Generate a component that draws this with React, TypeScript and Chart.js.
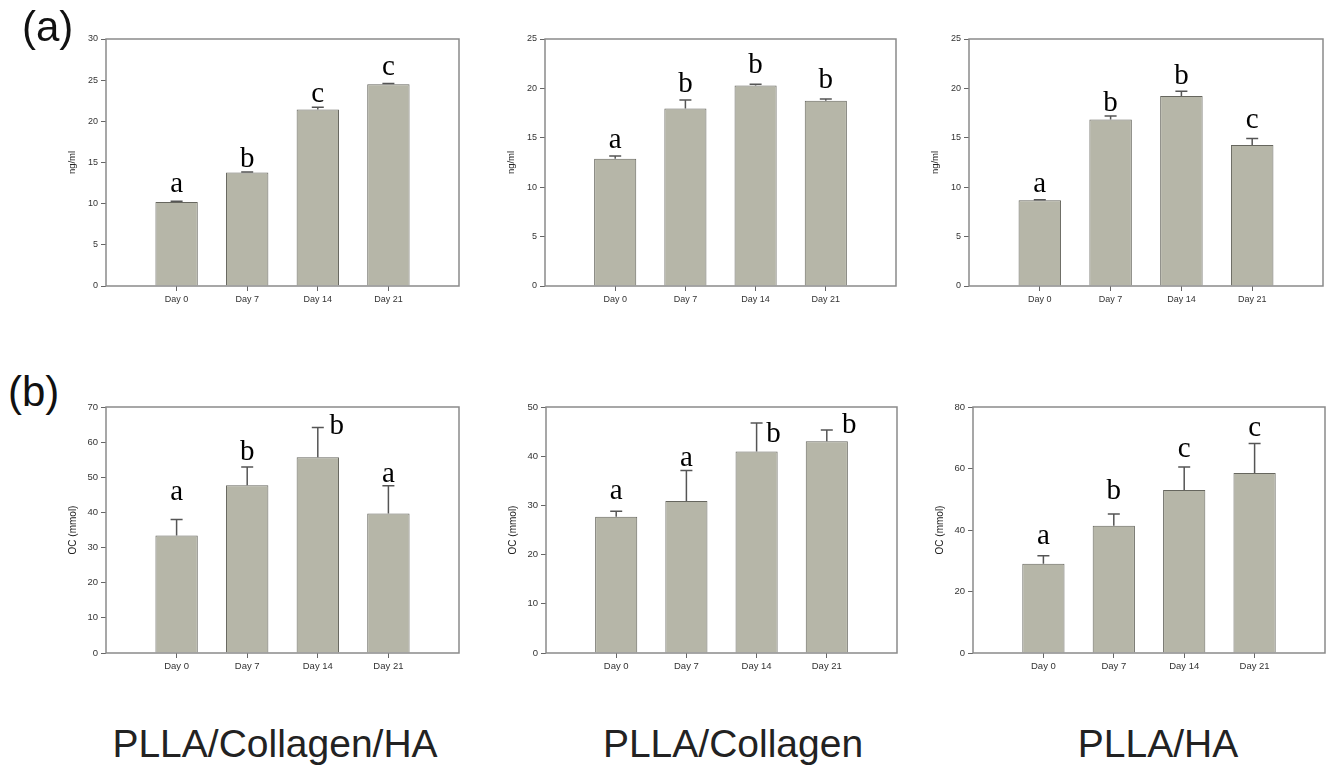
import React, { useEffect, useRef } from 'react';
import { Chart, registerables } from 'chart.js';

Chart.register(...registerables);

// ---------- data ----------
const days = ['Day 0', 'Day 7', 'Day 14', 'Day 21'];

// (a) ng/ml
const a1Values = [10.2, 13.8, 21.45, 24.5];
const a1Errors = [0.1, 0.05, 0.25, 0.1];
const a1Letters = ['a', 'b', 'c', 'c'];
const a1LetterY = [11.37, 14.49, 22.4, 25.65];
const a1LetterDx = [0, 0, 0, 0];

const a2Values = [12.87, 17.97, 20.3, 18.75];
const a2Errors = [0.3, 0.85, 0.12, 0.17];
const a2Letters = ['a', 'b', 'b', 'b'];
const a2LetterY = [13.98, 19.6, 21.55, 20.03];
const a2LetterDx = [0, 0, 0, 0];

const a3Values = [8.68, 16.86, 19.22, 14.27];
const a3Errors = [0.05, 0.34, 0.5, 0.66];
const a3Letters = ['a', 'b', 'b', 'c'];
const a3LetterY = [9.53, 17.73, 20.4, 15.95];
const a3LetterDx = [0, 0, 0, 0];

// (b) OC (mmol)
const b1Values = [33.4, 47.7, 55.7, 39.7];
const b1Errors = [4.6, 5.2, 8.5, 7.9];
const b1Letters = ['a', 'b', 'b', 'a'];
const b1LetterY = [43.5, 54.85, 62.4, 48.7];
const b1LetterDx = [0, 0, 0.27, 0];

const b2Values = [27.7, 30.9, 40.95, 43.04];
const b2Errors = [1.1, 6.2, 5.8, 2.3];
const b2Letters = ['a', 'a', 'b', 'b'];
const b2LetterY = [31.2, 37.97, 42.9, 44.8];
const b2LetterDx = [0, 0, 0.24, 0.32];

const b3Values = [29.0, 41.4, 53.0, 58.5];
const b3Errors = [2.6, 3.8, 7.5, 9.6];
const b3Letters = ['a', 'b', 'c', 'c'];
const b3LetterY = [35.45, 49.95, 63.77, 70.5];
const b3LetterDx = [0, 0, 0, 0];

const groupTitles = ['PLLA/Collagen/HA', 'PLLA/Collagen', 'PLLA/HA'];

// ---------- styles ----------
const BAR_FILL = '#b6b6a8';
const BAR_EDGE = '#66665e';
const ERR_COLOR = '#555555';
const FRAME = '#8a8a8a';
const TEXT = '#333333';

type PanelSpec = {
  values: number[];
  errors: number[];
  letters: string[];
  letterY: number[];
  letterDx: number[];
  yMax: number;
  yStep: number;
  yTitle: string;
  rect: { l: number; t: number; r: number; b: number };
  tickSize: number;
  titleSize: number;
};

const AXIS_W = 43;
const PAD_T = 15;
const PAD_R = 4;
const XAXIS_H = 30;

function Panel({ spec }: { spec: PanelSpec }) {
  const ref = useRef<HTMLCanvasElement | null>(null);
  const { rect } = spec;
  const width = rect.r - rect.l + AXIS_W + PAD_R;
  const height = rect.b - rect.t + PAD_T + XAXIS_H;

  useEffect(() => {
    if (!ref.current) return;
    const frame = {
      id: 'frame',
      afterDraw(chart: any) {
        const { ctx, chartArea: a } = chart;
        ctx.save();
        ctx.strokeStyle = FRAME;
        ctx.lineWidth = 1.5;
        ctx.strokeRect(a.left, a.top, a.right - a.left, a.bottom - a.top);
        ctx.restore();
      },
    };
    const extras = {
      id: 'extras',
      afterDatasetsDraw(chart: any) {
        const { ctx } = chart;
        const ys = chart.scales.y;
        const xs = chart.scales.x;
        const meta = chart.getDatasetMeta(0);
        ctx.save();
        meta.data.forEach((el: any, i: number) => {
          const top = ys.getPixelForValue(spec.values[i] + spec.errors[i]);
          ctx.strokeStyle = ERR_COLOR;
          ctx.lineWidth = 1.5;
          ctx.beginPath();
          ctx.moveTo(el.x, el.y);
          ctx.lineTo(el.x, top);
          ctx.moveTo(el.x - 6, top);
          ctx.lineTo(el.x + 6, top);
          ctx.stroke();
          ctx.fillStyle = '#000';
          ctx.font = '29px "Liberation Serif", "Times New Roman", serif';
          ctx.textAlign = 'center';
          ctx.textBaseline = 'alphabetic';
          ctx.fillText(
            spec.letters[i],
            xs.getPixelForValue(i + 1 + spec.letterDx[i]),
            ys.getPixelForValue(spec.letterY[i])
          );
        });
        ctx.restore();
      },
    };
    const chart = new Chart(ref.current, {
      type: 'bar',
      data: {
        datasets: [
          {
            data: spec.values.map((v, i) => ({ x: i + 1, y: v })),
            backgroundColor: BAR_FILL,
            borderColor: BAR_EDGE,
            borderWidth: 1,
            barPercentage: 0.6,
            categoryPercentage: 1,
          },
        ],
      },
      options: {
        animation: false,
        responsive: false,
        devicePixelRatio: 1,
        layout: { padding: { top: PAD_T, right: PAD_R, left: 0, bottom: 0 } },
        plugins: { legend: { display: false }, tooltip: { enabled: false } },
        scales: {
          x: {
            type: 'linear',
            min: 0,
            max: 5,
            offset: false,
            afterBuildTicks: (axis: any) => {
              axis.ticks = days.map((_, i) => ({ value: i + 1 }));
            },
            afterFit: (s: any) => {
              s.height = XAXIS_H;
            },
            ticks: {
              autoSkip: false,
              maxRotation: 0,
              padding: 3,
              color: TEXT,
              font: { family: '"Liberation Sans", Arial, sans-serif', size: spec.tickSize },
              callback: (v: any) => days[Math.round(v) - 1] ?? '',
            },
            grid: {
              drawOnChartArea: false,
              drawTicks: true,
              tickLength: 5,
              color: '#666',
              offset: false,
            },
            border: { display: false },
          },
          y: {
            min: 0,
            max: spec.yMax,
            afterFit: (s: any) => {
              s.width = AXIS_W;
            },
            ticks: {
              stepSize: spec.yStep,
              padding: 3,
              color: TEXT,
              font: { family: '"Liberation Sans", Arial, sans-serif', size: spec.tickSize },
            },
            grid: {
              drawOnChartArea: false,
              drawTicks: true,
              tickLength: 5,
              color: '#666',
            },
            border: { display: false },
            title: {
              display: true,
              text: spec.yTitle,
              color: '#222',
              padding: { top: 4, bottom: 4 },
              font: { family: '"Liberation Sans", Arial, sans-serif', size: spec.titleSize },
            },
          },
        },
      },
      plugins: [frame, extras],
    } as any);
    return () => chart.destroy();
  }, [spec]);

  return (
    <canvas
      ref={ref}
      width={width}
      height={height}
      style={{
        position: 'absolute',
        left: rect.l - AXIS_W,
        top: rect.t - PAD_T,
        width,
        height,
      }}
    />
  );
}

const panels: PanelSpec[] = [
  { values: a1Values, errors: a1Errors, letters: a1Letters, letterY: a1LetterY, letterDx: a1LetterDx,
    yMax: 30, yStep: 5, yTitle: 'ng/ml', rect: { l: 106, t: 39, r: 459, b: 286 }, tickSize: 9, titleSize: 9.5 },
  { values: a2Values, errors: a2Errors, letters: a2Letters, letterY: a2LetterY, letterDx: a2LetterDx,
    yMax: 25, yStep: 5, yTitle: 'ng/ml', rect: { l: 545, t: 39, r: 896, b: 286 }, tickSize: 9, titleSize: 9.5 },
  { values: a3Values, errors: a3Errors, letters: a3Letters, letterY: a3LetterY, letterDx: a3LetterDx,
    yMax: 25, yStep: 5, yTitle: 'ng/ml', rect: { l: 969, t: 39, r: 1323, b: 286 }, tickSize: 9, titleSize: 9.5 },
  { values: b1Values, errors: b1Errors, letters: b1Letters, letterY: b1LetterY, letterDx: b1LetterDx,
    yMax: 70, yStep: 10, yTitle: 'OC (mmol)', rect: { l: 106, t: 407, r: 459, b: 653 }, tickSize: 9.5, titleSize: 10 },
  { values: b2Values, errors: b2Errors, letters: b2Letters, letterY: b2LetterY, letterDx: b2LetterDx,
    yMax: 50, yStep: 10, yTitle: 'OC (mmol)', rect: { l: 546, t: 407, r: 897, b: 653 }, tickSize: 9.5, titleSize: 10 },
  { values: b3Values, errors: b3Errors, letters: b3Letters, letterY: b3LetterY, letterDx: b3LetterDx,
    yMax: 80, yStep: 20, yTitle: 'OC (mmol)', rect: { l: 973, t: 407, r: 1325, b: 653 }, tickSize: 9.5, titleSize: 10 },
];

const titleCenters = [275, 733, 1158];

export default function App() {
  const sans = '"Liberation Sans", Arial, sans-serif';
  return (
    <div
      style={{
        position: 'absolute',
        left: 0,
        top: 0,
        width: 1326,
        height: 765,
        background: '#ffffff',
        overflow: 'hidden',
      }}
    >
      {panels.map((p, i) => (
        <Panel key={i} spec={p} />
      ))}
      <div style={{ position: 'absolute', left: 22, top: 6, font: `42px ${sans}`, lineHeight: '42px', color: '#111' }}>(a)</div>
      <div style={{ position: 'absolute', left: 8, top: 371, font: `42px ${sans}`, lineHeight: '42px', color: '#111' }}>(b)</div>
      {groupTitles.map((t, i) => (
        <div
          key={t}
          style={{
            position: 'absolute',
            left: titleCenters[i] - 250,
            width: 500,
            top: 724,
            textAlign: 'center',
            font: `39px ${sans}`,
            lineHeight: '39px',
            color: '#222',
            whiteSpace: 'nowrap',
          }}
        >
          {t}
        </div>
      ))}
    </div>
  );
}
